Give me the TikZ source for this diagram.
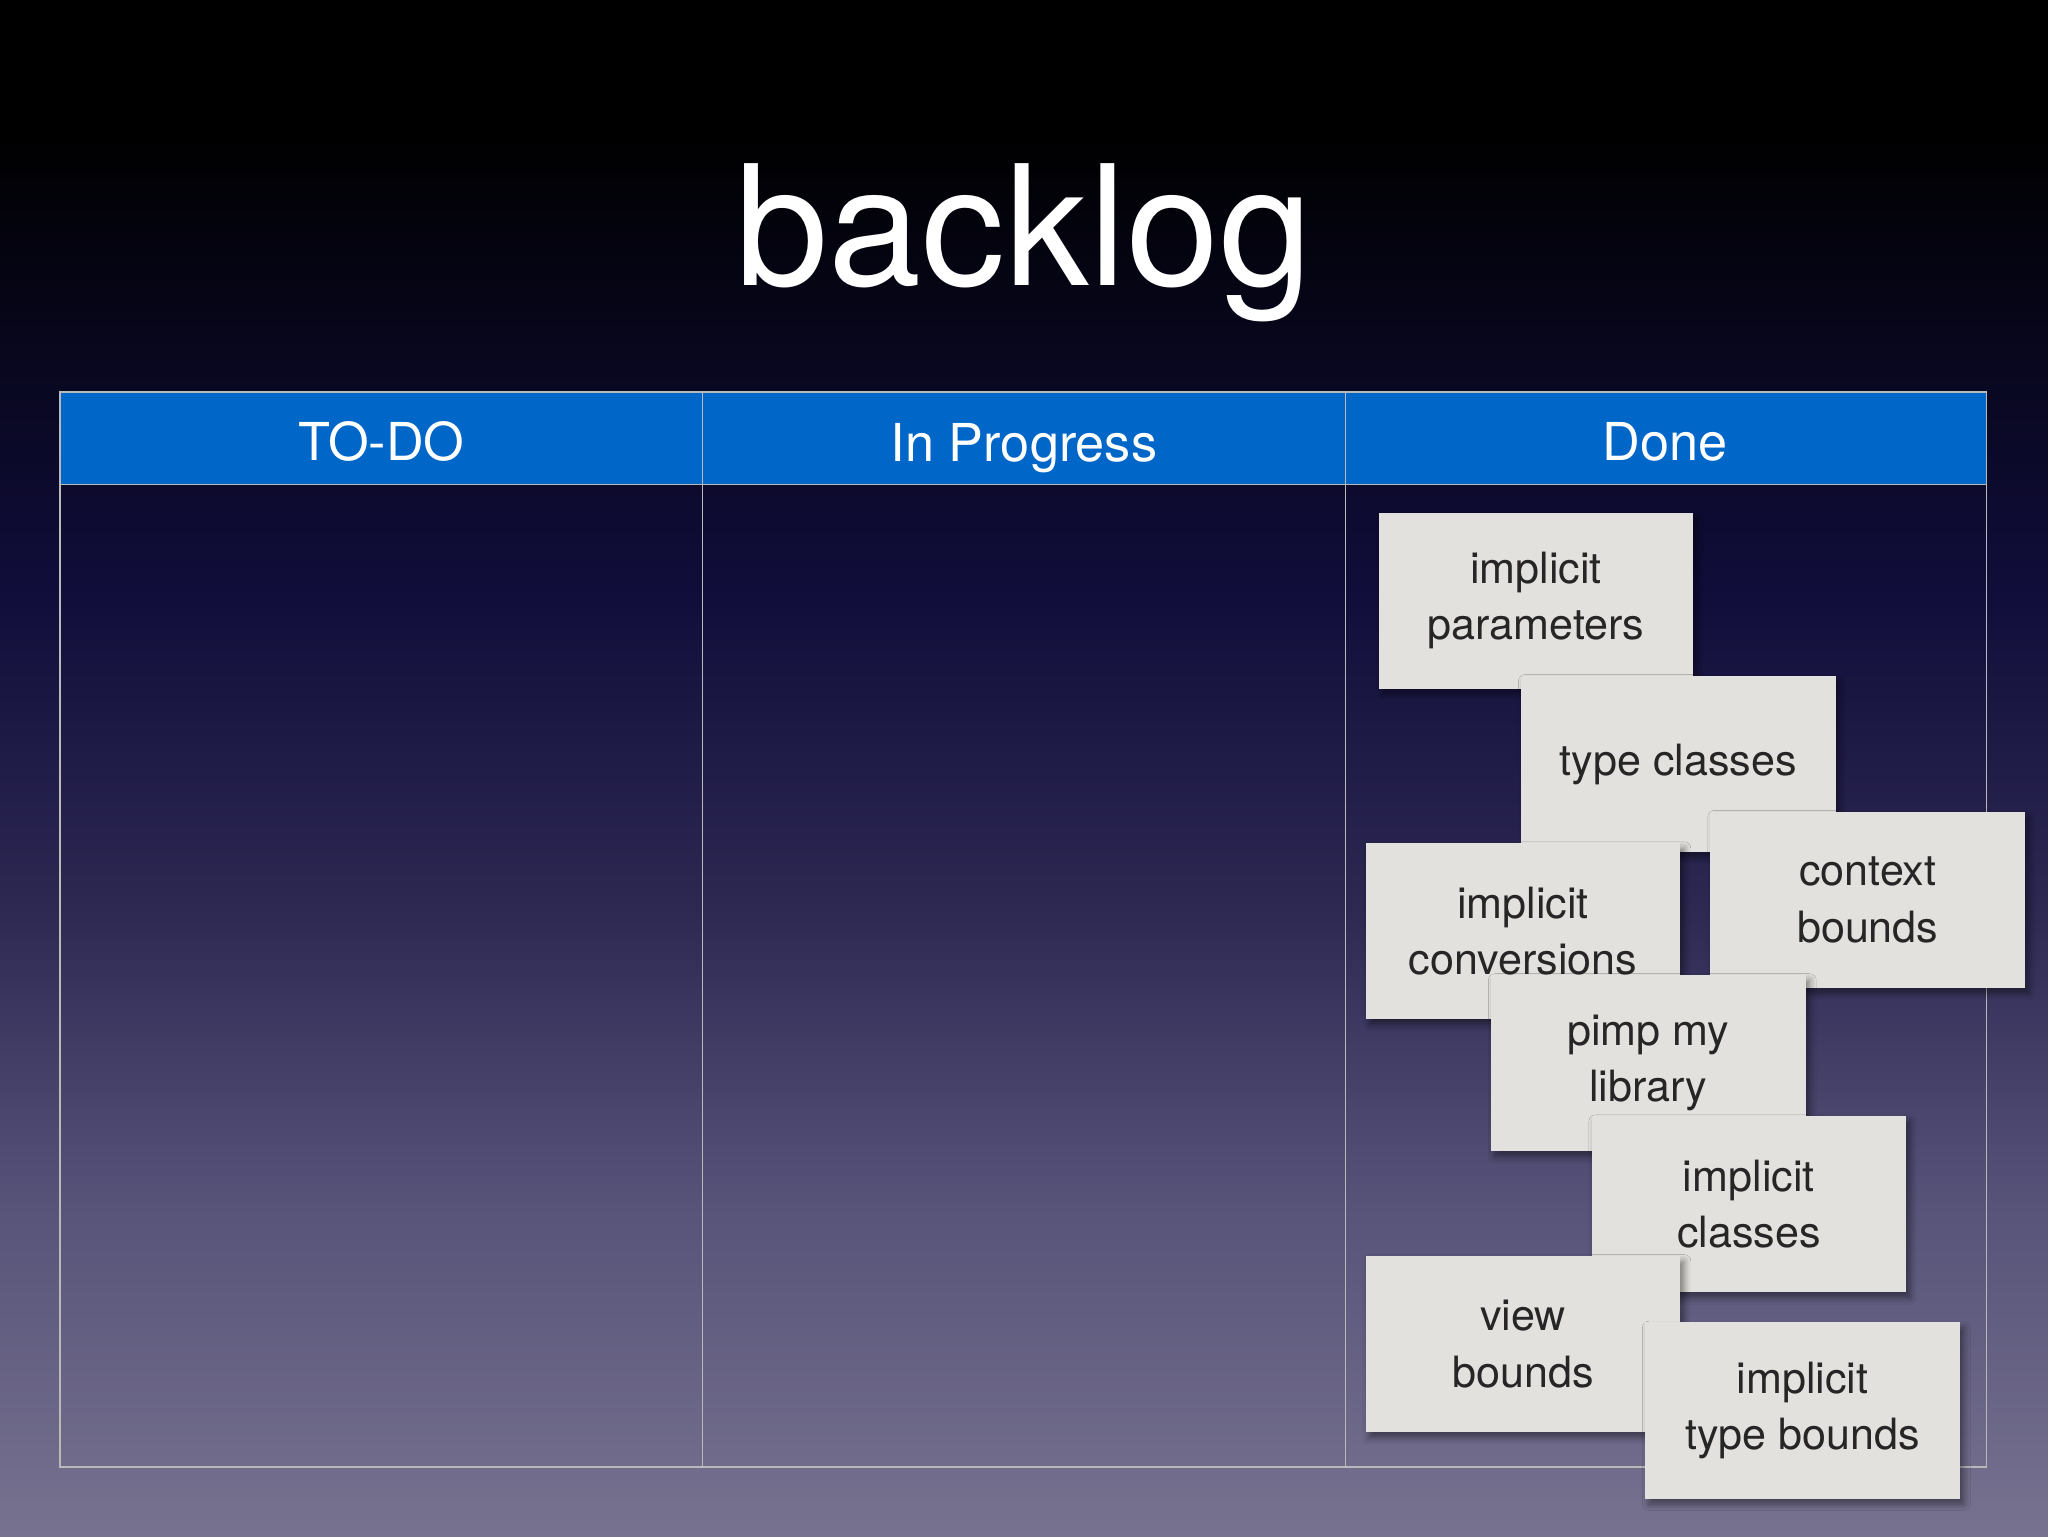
\documentclass[tikz,border=0pt]{standalone}
\usepackage{fontspec}
\setmainfont{TeX Gyre Heros}
\usetikzlibrary{shadows.blur}
\begin{document}
\begin{tikzpicture}[x=1pt,y=-1pt,
  card/.style={draw=none,fill=cardgray,minimum width=241pt,minimum height=135pt,inner sep=0pt,
    align=center,font=\fontsize{33}{43}\selectfont,text=black!85,
    blur shadow={shadow xshift=3pt,shadow yshift=-4pt,shadow opacity=45,shadow blur radius=5pt,shadow blur steps=6}},
  grid/.style={draw=gray!55,line width=1.2pt}]
\definecolor{cardgray}{HTML}{E3E1DD}
\definecolor{hdrblue}{HTML}{0066C8}
\definecolor{bg0}{HTML}{000000}
\definecolor{bg1}{HTML}{07061A}
\definecolor{bg2}{HTML}{100D3A}
\definecolor{bg3}{HTML}{2D2953}
\definecolor{bg4}{HTML}{58547A}
\definecolor{bg5}{HTML}{77728F}
\useasboundingbox (0,0) rectangle (1568,1176);
\fill[bg0] (0,0) rectangle (1568,100.5);
\shade[top color=bg0,bottom color=bg1] (0,100) rectangle (1568,250.5);
\shade[top color=bg1,bottom color=bg2] (0,250) rectangle (1568,450.5);
\shade[top color=bg2,bottom color=bg3] (0,450) rectangle (1568,700.5);
\shade[top color=bg3,bottom color=bg4] (0,700) rectangle (1568,930.5);
\shade[top color=bg4,bottom color=bg5] (0,930) rectangle (1568,1176);
\node[text=white,font=\fontsize{128}{134}\selectfont] (title) at (784,186) {backlog};
\fill[hdrblue] (46,300) rectangle (1521,371);
\draw[grid] (46,300) rectangle (1521,1123);
\draw[grid] (46,371) -- (1521,371);
\draw[grid] (538,300) -- (538,1123);
\draw[grid] (1030,300) -- (1030,1123);
\node[text=white,font=\fontsize{40}{44}\selectfont] (h1) at (292,338) {TO-DO};
\node[text=white,font=\fontsize{40}{44}\selectfont,anchor=base] (h2) at (784,353) {In Progress};
\node[text=white,font=\fontsize{40}{44}\selectfont] (h3) at (1275,338) {Done};
\node[card] (c1) at (1176,460) {implicit\\parameters};
\node[card] (c2) at (1285,585) {type classes};
\node[card] (c3) at (1166,713) {implicit\\conversions};
\node[card] (c4) at (1430,689) {context\\bounds};
\node[card] (c5) at (1262,814) {pimp my\\library};
\node[card] (c6) at (1339,922) {implicit\\classes};
\node[card] (c7) at (1166,1029) {view\\bounds};
\node[card] (c8) at (1380,1080) {implicit\\type bounds};
\end{tikzpicture}
\end{document}
